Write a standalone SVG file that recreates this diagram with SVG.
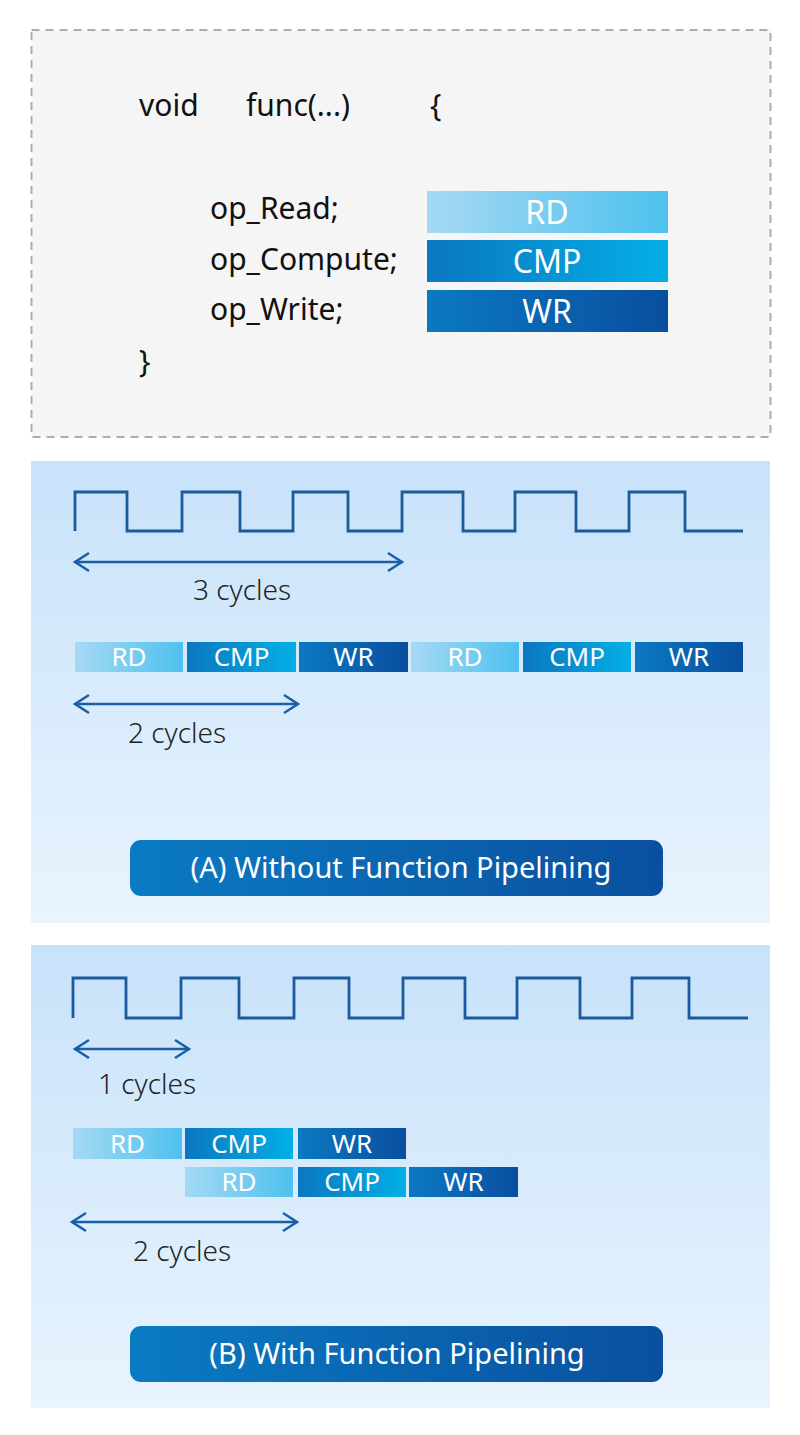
<svg xmlns="http://www.w3.org/2000/svg" width="800" height="1435" viewBox="0 0 800 1435">
<defs>
<linearGradient id="gRD" x1="0" y1="0" x2="1" y2="0"><stop offset="0" stop-color="#a5d9f3"/><stop offset="1" stop-color="#4ec1ee"/></linearGradient>
<linearGradient id="gCMP" x1="0" y1="0" x2="1" y2="0"><stop offset="0" stop-color="#0b77c0"/><stop offset="1" stop-color="#03afe6"/></linearGradient>
<linearGradient id="gWR" x1="0" y1="0" x2="1" y2="0"><stop offset="0" stop-color="#0b79c1"/><stop offset="1" stop-color="#094e9f"/></linearGradient>
<linearGradient id="gBtn" x1="0" y1="0" x2="1" y2="0"><stop offset="0" stop-color="#0a7bc3"/><stop offset="1" stop-color="#0a4f9f"/></linearGradient>
<linearGradient id="gPanel" x1="0" y1="0" x2="0" y2="1"><stop offset="0" stop-color="#c8e2fa"/><stop offset="1" stop-color="#e8f4fe"/></linearGradient>
<marker id="chev" markerUnits="userSpaceOnUse" markerWidth="20" markerHeight="22" viewBox="0 -11 18 22" refX="16" refY="0" orient="auto-start-reverse">
<path d="M2,-9 L16,0 L2,9" fill="none" stroke="#1a5fa6" stroke-width="2.5"/>
</marker>
<style>
.code{font-family:"Noto Sans","Open Sans",sans-serif;font-size:30px;fill:#111}
.lbl{font-family:"Noto Sans","Open Sans",sans-serif;fill:#fff;text-anchor:middle}
.cyc{font-family:"Noto Sans","Open Sans",sans-serif;font-size:28px;fill:#222;font-weight:300}
.clk{fill:none;stroke:#1b5a9d;stroke-width:2.8}
.arr{fill:none;stroke:#1a5fa6;stroke-width:2.5;marker-start:url(#chev);marker-end:url(#chev)}
.rd{fill:url(#gRD)}
.cmp{fill:url(#gCMP)}
.wr{fill:url(#gWR)}
.btn{fill:url(#gBtn)}
.panel{fill:url(#gPanel)}
</style>
</defs>
<rect width="800" height="1435" fill="#fff"/>

<g id="code-box">
<rect x="31.5" y="30" width="739" height="407" fill="#f5f5f5" stroke="#adadad" stroke-width="2" stroke-dasharray="8 6"/>
<text class="code" x="139" y="116">void</text>
<text class="code" x="246" y="116">func(...)</text>
<text class="code" x="430" y="116">{</text>
<text class="code" x="210" y="219">op_Read;</text>
<text class="code" x="210" y="270">op_Compute;</text>
<text class="code" x="210" y="320">op_Write;</text>
<text class="code" x="139" y="372">}</text>
</g>
<g id="code-bars">
<rect class="rd" x="427" y="191" width="241" height="42"/>
<text class="lbl" x="547" y="224" font-size="32">RD</text>
<rect class="cmp" x="427" y="240" width="241" height="42"/>
<text class="lbl" x="547" y="273" font-size="32">CMP</text>
<rect class="wr" x="427" y="290" width="241" height="42"/>
<text class="lbl" x="547" y="323" font-size="32">WR</text>
</g>

<g id="panel-a">
<rect class="panel" x="31" y="461" width="739" height="462"/>
<path class="clk" d="M75,531 V492 H127 V531 H182 V492 H240 V531 H293 V492 H348 V531 H402 V492 H463 V531 H515 V492 H576 V531 H629 V492 H685 V531 H743"/>
<text class="cyc" x="193" y="600">3 cycles</text>
<text class="cyc" x="128" y="743">2 cycles</text>
<g id="a-bars">
<rect class="rd" x="75" y="642" width="108" height="30"/><text class="lbl" x="129" y="666" font-size="26">RD</text>
<rect class="cmp" x="187" y="642" width="109" height="30"/><text class="lbl" x="241.5" y="666" font-size="26">CMP</text>
<rect class="wr" x="299" y="642" width="109" height="30"/><text class="lbl" x="353.5" y="666" font-size="26">WR</text>
<rect class="rd" x="411" y="642" width="108" height="30"/><text class="lbl" x="465" y="666" font-size="26">RD</text>
<rect class="cmp" x="523" y="642" width="108" height="30"/><text class="lbl" x="577" y="666" font-size="26">CMP</text>
<rect class="wr" x="635" y="642" width="108" height="30"/><text class="lbl" x="689" y="666" font-size="26">WR</text>
</g>
<g id="label-a">
<rect class="btn" x="130" y="840" width="533" height="56" rx="11"/>
<text class="lbl" x="401" y="878" font-size="29">(A) Without Function Pipelining</text>
</g>
</g>

<g id="panel-b">
<rect class="panel" x="31" y="945" width="739" height="463"/>
<path class="clk" d="M73,1018 V978 H126 V1018 H181 V978 H239 V1018 H294 V978 H349 V1018 H403 V978 H465 V1018 H517 V978 H580 V1018 H632 V978 H689 V1018 H748"/>
<text class="cyc" x="98" y="1094">1 cycles</text>
<text class="cyc" x="133" y="1261">2 cycles</text>
<g id="b-bars">
<rect class="rd" x="73" y="1128" width="109" height="31"/><text class="lbl" x="127.5" y="1153" font-size="26">RD</text>
<rect class="cmp" x="185" y="1128" width="108" height="31"/><text class="lbl" x="239" y="1153" font-size="26">CMP</text>
<rect class="wr" x="298" y="1128" width="108" height="31"/><text class="lbl" x="352" y="1153" font-size="26">WR</text>
<rect class="rd" x="185" y="1167" width="108" height="30"/><text class="lbl" x="239" y="1191" font-size="26">RD</text>
<rect class="cmp" x="298" y="1167" width="108" height="30"/><text class="lbl" x="352" y="1191" font-size="26">CMP</text>
<rect class="wr" x="409" y="1167" width="109" height="30"/><text class="lbl" x="463.5" y="1191" font-size="26">WR</text>
</g>
<g id="label-b">
<rect class="btn" x="130" y="1326" width="533" height="56" rx="11"/>
<text class="lbl" x="397" y="1364" font-size="29">(B) With Function Pipelining</text>
</g>
</g>

<g id="connectors">
<line class="arr" x1="75" y1="562" x2="402" y2="562"/>
<line class="arr" x1="75" y1="704" x2="298" y2="704"/>
<line class="arr" x1="75" y1="1049" x2="189" y2="1049"/>
<line class="arr" x1="72" y1="1222" x2="297" y2="1222"/>
</g>
</svg>
